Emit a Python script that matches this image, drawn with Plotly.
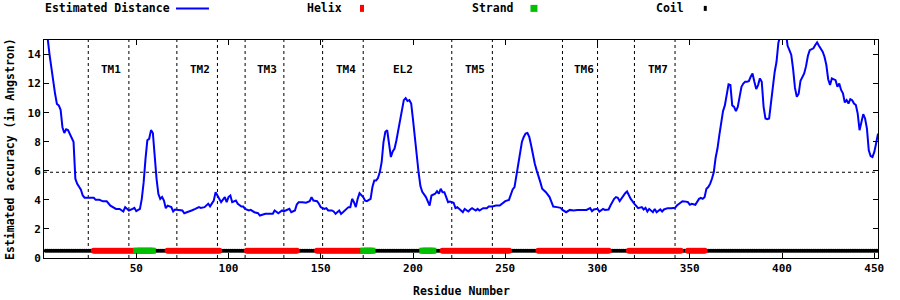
import plotly.graph_objects as go

# ---- data ----
residue = [1, 2, 3, 4, 5, 6, 7, 8, 9, 10, 11, 12, 13, 14, 15, 16, 17, 18, 19, 20,
           21, 22, 23, 25, 27, 28, 30, 32, 34, 36, 38, 39, 41, 43, 44, 46, 48, 49, 50, 52,
           53, 54, 55, 56, 57, 58, 59, 60, 61, 62, 63, 64, 65, 66, 67, 69, 70, 71, 73, 75,
           76, 78, 80, 82, 84, 85, 87, 89, 90, 92, 93, 94, 95, 96, 98, 99, 100, 101, 102, 104,
           105, 107, 108, 109, 111, 112, 114, 116, 117, 119, 120, 122, 124, 125, 127, 129, 130, 131, 133, 134,
           136, 137, 138, 140, 142, 144, 145, 146, 148, 149, 150, 152, 153, 154, 156, 157, 158, 160, 161, 162,
           164, 165, 166, 167, 168, 169, 170, 171, 173, 174, 175, 177, 178, 179, 180, 181, 182, 183, 184, 185,
           186, 187, 188, 189, 190, 191, 192, 193, 194, 195, 196, 197, 198, 199, 200, 201, 202, 203, 204, 205,
           207, 208, 209, 210, 212, 213, 214, 215, 216, 217, 218, 219, 220, 222, 223, 224, 226, 227, 228, 230,
           231, 232, 234, 235, 236, 238, 240, 241, 243, 245, 247, 249, 250, 252, 253, 254, 255, 256, 257, 258,
           259, 260, 261, 262, 263, 264, 265, 266, 267, 268, 269, 270, 271, 272, 274, 275, 276, 278, 280, 281,
           283, 285, 287, 289, 291, 293, 294, 296, 297, 298, 300, 301, 303, 304, 306, 307, 309, 310, 311, 312,
           313, 315, 316, 317, 318, 320, 321, 322, 324, 325, 326, 327, 328, 330, 331, 332, 334, 335, 336, 338,
           340, 342, 343, 345, 346, 348, 349, 350, 351, 353, 354, 355, 356, 357, 358, 359, 360, 361, 362, 363,
           364, 365, 366, 367, 368, 369, 370, 371, 372, 373, 374, 375, 376, 377, 378, 379, 380, 381, 382, 383,
           384, 385, 386, 387, 388, 389, 390, 391, 392, 393, 394, 395, 396, 397, 398, 399, 400, 401, 402, 403,
           404, 405, 406, 407, 408, 409, 410, 411, 412, 413, 414, 415, 416, 417, 418, 419, 420, 421, 422, 423,
           424, 425, 426, 427, 429, 430, 431, 432, 433, 434, 435, 436, 437, 438, 439, 440, 441, 442, 443, 444,
           445, 446, 447, 448, 449, 450, 451, 452]
distance = [15.6, 15.1, 14.0, 13.1, 11.9, 11.3, 10.6, 10.5, 10.2, 9.0, 8.6, 8.85, 8.8, 8.55, 8.3, 8.0, 5.45, 5.1, 4.9, 4.7,
            4.3, 4.15, 4.14, 4.12, 4.14, 4.0, 4.0, 3.9, 3.9, 3.6, 3.45, 3.38, 3.38, 3.2, 3.5, 3.27, 3.38, 3.45, 3.22, 3.38,
            4.07, 5.2, 6.8, 8.1, 8.2, 8.8, 8.6, 6.8, 5.45, 4.4, 4.07, 4.2, 3.95, 3.42, 3.6, 3.5, 3.2, 3.34, 3.31, 3.27,
            3.08, 3.2, 3.27, 3.38, 3.5, 3.45, 3.5, 3.73, 3.55, 3.95, 4.53, 4.3, 4.07, 3.84, 4.19, 3.84, 4.19, 4.3, 3.84, 3.95,
            3.73, 3.54, 3.54, 3.38, 3.27, 3.31, 3.15, 3.08, 2.92, 2.99, 3.04, 3.04, 3.04, 3.27, 3.08, 3.27, 3.2, 3.27, 3.38, 3.15,
            3.27, 3.68, 3.84, 3.84, 3.8, 3.91, 4.19, 3.95, 3.91, 3.73, 3.5, 3.38, 3.43, 3.27, 3.27, 3.2, 3.04, 3.27, 3.04, 3.15,
            3.38, 3.5, 3.5, 4.07, 3.84, 3.5, 4.07, 4.46, 4.19, 3.95, 3.91, 4.07, 4.88, 5.34, 5.34, 5.5, 5.91, 6.6, 7.98, 8.68,
            8.79, 7.87, 6.95, 7.34, 7.53, 8.1, 8.79, 9.6, 10.4, 10.86, 11.0, 10.8, 10.86, 10.63, 9.5, 8.2, 6.9, 5.9, 4.95, 4.55,
            4.19, 3.95, 3.61, 4.3, 4.42, 4.6, 4.42, 4.76, 4.53, 4.53, 4.19, 3.84, 3.88, 3.8, 3.43, 3.5, 3.27, 3.15, 3.38, 3.2,
            3.34, 3.43, 3.27, 3.38, 3.27, 3.43, 3.43, 3.54, 3.54, 3.61, 3.61, 3.77, 3.91, 4.0, 4.3, 4.72, 4.88, 5.68, 6.38, 7.3,
            7.98, 8.33, 8.56, 8.6, 8.33, 7.76, 7.06, 6.49, 6.03, 5.68, 5.22, 4.76, 4.65, 4.53, 4.19, 3.84, 3.54, 3.5, 3.45, 3.31,
            3.15, 3.31, 3.27, 3.31, 3.31, 3.27, 3.31, 3.43, 3.22, 3.34, 3.38, 3.2, 3.38, 3.31, 3.34, 3.61, 4.07, 4.19, 4.14, 3.91,
            4.12, 4.46, 4.58, 4.3, 4.07, 3.73, 3.56, 3.43, 3.5, 3.34, 3.45, 3.2, 3.38, 3.15, 3.38, 3.15, 3.34, 3.2, 3.34, 3.43,
            3.43, 3.45, 3.61, 3.77, 3.91, 3.88, 3.84, 3.66, 3.73, 3.66, 3.84, 4.07, 4.14, 4.07, 4.19, 4.76, 4.88, 5.1, 5.45, 5.9,
            6.9, 7.53, 8.45, 9.25, 10.1, 10.5, 11.3, 11.95, 11.9, 10.5, 10.4, 10.1, 10.4, 10.98, 11.78, 12.0, 12.13, 12.13, 12.17, 12.47,
            12.7, 12.13, 11.62, 11.9, 12.36, 12.13, 10.4, 9.6, 9.55, 9.6, 10.6, 12.0, 12.8, 13.5, 14.8, 15.3, 15.8, 16.0, 15.6, 14.6,
            14.3, 13.97, 13.0, 11.7, 11.1, 11.3, 12.2, 12.5, 12.7, 13.2, 13.9, 14.3, 14.38, 14.43, 14.66, 14.84, 14.61, 14.43, 14.2, 13.85,
            13.28, 12.3, 11.9, 12.36, 12.24, 11.78, 12.0, 11.56, 11.33, 10.7, 10.86, 10.63, 10.93, 10.86, 10.63, 10.52, 9.94, 8.79, 9.48, 9.9,
            9.6, 8.9, 7.41, 7.02, 6.95, 7.3, 7.9, 8.56]

# secondary structure segments (C = coil, H = helix, E = strand)
ss_start = [1, 27, 50, 60, 67, 96, 110, 138, 148, 173, 179, 205, 212, 216, 253, 268, 307, 317, 346, 349, 359]
ss_end   = [26, 49, 59, 66, 95, 109, 137, 147, 172, 178, 204, 211, 215, 252, 267, 306, 316, 345, 348, 358, 452]
ss_type  = ["C", "H", "E", "C", "H", "C", "H", "C", "H", "E", "C", "E", "C", "H", "C", "H", "C", "H", "C", "H", "C"]
ss_level = 0.5

boundaries = [24, 46, 72, 94, 109, 130, 151, 173, 221, 243, 281, 300, 320, 342]
region_labels = ["TM1", "TM2", "TM3", "TM4", "EL2", "TM5", "TM6", "TM7"]
region_label_x = [36.5, 84.5, 121, 163.5, 194.5, 233.5, 292.5, 332.5]
region_label_y = 13.0
threshold = 5.9

x_ticks = [50, 100, 150, 200, 250, 300, 350, 400, 450]
y_ticks = [0, 2, 4, 6, 8, 10, 12, 14]

# ---- expand secondary structure per residue ----
ss_x = {"H": [], "E": [], "C": []}
for s, e, t in zip(ss_start, ss_end, ss_type):
    ss_x[t].extend(range(s, e + 1))

FONT = "DejaVu Sans Mono"
fig = go.Figure()

fig.add_trace(go.Scatter(x=residue, y=distance, mode="lines",
                         line=dict(color="#0000ff", width=2), hoverinfo="skip"))
fig.add_trace(go.Scatter(x=ss_x["C"], y=[ss_level] * len(ss_x["C"]), mode="markers",
                         marker=dict(color="black", size=4, symbol="circle", line=dict(width=0))))
fig.add_trace(go.Scatter(x=ss_x["H"], y=[ss_level] * len(ss_x["H"]), mode="markers",
                         marker=dict(color="#ff0000", size=6, symbol="circle", line=dict(width=0))))
fig.add_trace(go.Scatter(x=ss_x["E"], y=[ss_level] * len(ss_x["E"]), mode="markers",
                         marker=dict(color="#00c000", size=6, symbol="square", line=dict(width=0))))

shapes = []
for b in boundaries:
    shapes.append(dict(type="line", xref="x", yref="paper", x0=b, x1=b, y0=0, y1=1,
                       line=dict(color="black", width=1, dash="dot"), layer="below"))
shapes.append(dict(type="line", xref="paper", yref="y", x0=0, x1=1, y0=threshold, y1=threshold,
                   line=dict(color="black", width=1, dash="dot"), layer="below"))

# legend (gnuplot style: text then sample)
LY = 1.145
shapes.append(dict(type="line", xref="paper", yref="paper", x0=0.1583, x1=0.1978, y0=LY, y1=LY,
                   line=dict(color="#0000ff", width=2)))
shapes.append(dict(type="rect", xref="paper", yref="paper", xsizemode="pixel", ysizemode="pixel",
                   xanchor=0.3813, yanchor=LY, x0=-2, x1=2, y0=-3.5, y1=3.5,
                   fillcolor="#ff0000", line=dict(width=0)))
shapes.append(dict(type="rect", xref="paper", yref="paper", xsizemode="pixel", ysizemode="pixel",
                   xanchor=0.5875, yanchor=LY, x0=-3.5, x1=3.5, y0=-3.5, y1=3.5,
                   fillcolor="#00c000", line=dict(width=0)))
shapes.append(dict(type="rect", xref="paper", yref="paper", xsizemode="pixel", ysizemode="pixel",
                   xanchor=0.7929, yanchor=LY, x0=-1.5, x1=1.5, y0=-2.5, y1=2.5,
                   fillcolor="black", line=dict(width=0)))

annotations = []
legend_items = [("Estimated Distance", -0.0012), ("Helix", 0.3129), ("Strand", 0.5104), ("Coil", 0.7318)]
for txt, lx in legend_items:
    annotations.append(dict(text="<b>%s</b>" % txt, xref="paper", yref="paper", x=lx, y=LY,
                            xanchor="left", yanchor="middle", showarrow=False,
                            font=dict(family=FONT, size=11.5, color="black")))
for lab, lx in zip(region_labels, region_label_x):
    annotations.append(dict(text="<b>%s</b>" % lab, xref="x", yref="y", x=lx, y=region_label_y,
                            xanchor="center", yanchor="middle", showarrow=False,
                            font=dict(family=FONT, size=11, color="black")))
annotations.append(dict(text="<b>Residue Number</b>", xref="paper", yref="paper", x=0.5, y=-0.151,
                        xanchor="center", yanchor="middle", showarrow=False,
                        font=dict(family=FONT, size=11.5, color="black")))
annotations.append(dict(text="<b>Estimated accuracy (in Angstron)</b>", xref="paper", yref="paper",
                        x=-0.0408, y=0.5, xanchor="center", yanchor="middle", textangle=-90,
                        showarrow=False, font=dict(family=FONT, size=11.5, color="black")))

axis_common = dict(showgrid=False, zeroline=False, showline=True, linecolor="black", linewidth=1,
                   mirror="ticks", ticks="inside", ticklen=5, tickcolor="black",
                   tickfont=dict(family=FONT, size=11, color="black"))

fig.update_layout(
    width=900, height=300,
    margin=dict(l=44, r=22, t=40, b=42),
    paper_bgcolor="white", plot_bgcolor="white",
    showlegend=False,
    xaxis=dict(range=[0, 452], tickvals=x_ticks, ticktext=["<b>%d</b>" % v for v in x_ticks],
               **axis_common),
    yaxis=dict(range=[0, 15], tickvals=y_ticks, ticktext=["<b>%d</b>" % v for v in y_ticks],
               **axis_common),
    shapes=shapes,
    annotations=annotations,
)

fig.write_html("out.html")
